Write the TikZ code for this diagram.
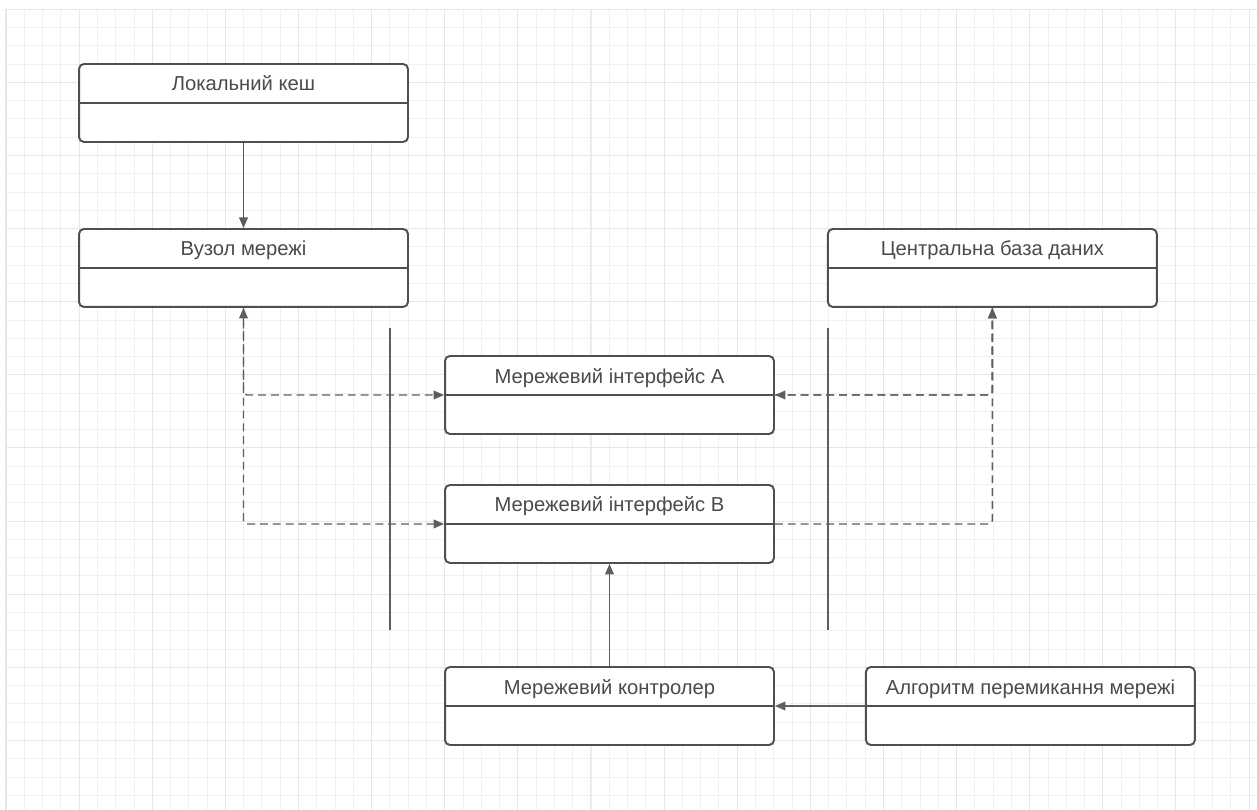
\documentclass[tikz,border=0pt]{standalone}
\usepackage{fontspec}
\setmainfont{Liberation Sans}
\usepackage{xcolor}
\usetikzlibrary{arrows.meta,calc,positioning}

\definecolor{gridminor}{HTML}{F0F0F0}
\definecolor{gridmajor}{HTML}{E6E6E6}
\definecolor{boxline}{HTML}{4F4F4F}
\definecolor{conline}{HTML}{5E5E5E}
\definecolor{boxtext}{HTML}{4A4A4A}

\begin{document}
\begin{tikzpicture} [
       x=0.02cm, y=-0.02cm,
       box/.style={draw=boxline, line width=1.1pt, rounded corners=2.8pt,
               fill=white, minimum width=6.58cm, inner xsep=0pt, inner ysep=0pt,
               text height=0.54cm, text depth=1.02cm, text=boxtext,
               font=\fontsize{11.5}{14}\selectfont,
               path picture={\draw[boxline, line width=1.1pt]
                   (path picture bounding box.west) -- (path picture bounding box.east);}},
       line/.style={draw=conline, line width=0.8pt, -{Triangle[length=6pt,width=5pt]}},
       dline/.style={line, dash pattern=on 4.5pt off 2.8pt, rounded corners=2pt},
       sep/.style={draw=conline, line width=0.7pt},
       node distance=3.3cm,
       ]
       \useasboundingbox (0,0) rectangle (1257,810);
       \fill[white] (0,0) rectangle (1257,810);
       % grid
       \foreach \i in {0,...,68}
          \draw[gridminor, line width=0.5pt] ({6+18.28*\i},9) -- ({6+18.28*\i},810);
       \foreach \j in {0,...,43}
          \draw[gridminor, line width=0.5pt] (6,{9.2+18.28*\j}) -- (1257,{9.2+18.28*\j});
       \foreach \i in {0,4,...,68}
          \draw[gridmajor, line width=0.6pt] ({6+18.28*\i},9) -- ({6+18.28*\i},810);
       \foreach \j in {0,4,...,40}
          \draw[gridmajor, line width=0.6pt] (6,{9.2+18.28*\j}) -- (1257,{9.2+18.28*\j});

       % separators
       \draw[sep] (390,328) -- (390,630);
       \draw[sep] (828,328) -- (828,630);

       \node (cache) [box] at (243.5,103) {Локальний кеш};
       \node (vuzol) [box, below of = cache] {Вузол мережі};
       \node (db) [box, right of = vuzol, node distance=14.98cm] {Центральна база даних};
       \node (ifa) [box] at (609.5,395) {Мережевий інтерфейс A};
       \node (ifb) [box, below of = ifa, node distance=2.58cm] {Мережевий інтерфейс B};
       \node (ctrl) [box] at (609.5,706) {Мережевий контролер};
       \node (algo) [box, right of = ctrl, node distance=8.42cm] {Алгоритм перемикання мережі};

       \begin{scope}[every path/.style=line]
       \path (cache) -- (vuzol);
       \path (ctrl) -- (ifb);
       \path (algo) -- (ctrl);
       \end{scope}
       \begin{scope}[every path/.style=dline]
       \path [{Triangle[length=6pt,width=5pt]}-{Triangle[length=6pt,width=5pt]}] (vuzol.south) |- (ifa.west);
       \path (vuzol.south) |- (ifb.west);
       \path (ifa.east) -| (db.south);
       \path (db.south) |- (ifa.east);
       \path (ifb.east) -| (db.south);
       \end{scope}
\end{tikzpicture}
\end{document}
